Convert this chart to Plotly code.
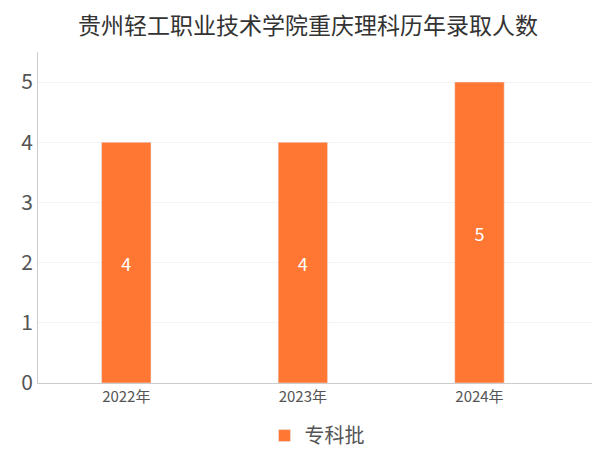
import plotly.graph_objects as go

years = ["2022年", "2023年", "2024年"]
values = [4, 4, 5]
series_name = "专科批"

fig = go.Figure()
fig.add_trace(go.Bar(
    x=[0, 1, 2], y=values, name=series_name, width=0.28,
    marker=dict(color="#FF7733"),
    text=[str(v) for v in values], textposition="inside", insidetextanchor="middle",
    textfont=dict(color="white", size=18),
))
fig.update_layout(
    width=600, height=450,
    title=dict(text="贵州轻工职业技术学院重庆理科历年录取人数", x=0.5, xanchor="center", y=0.96, yanchor="middle",
               font=dict(size=23, color="#333", family="Noto Sans CJK SC")),
    font=dict(family="Noto Sans CJK SC"),
    plot_bgcolor="white", paper_bgcolor="white",
    margin=dict(l=30, r=12, t=44, b=75, autoexpand=False),
    showlegend=True,
    legend=dict(orientation="h", x=0.5, xanchor="center", y=-0.1, yanchor="top",
                font=dict(size=20, color="#555")),
)
fig.update_xaxes(range=[-0.5, 2.66], tickvals=[0, 1, 2], ticktext=years, showline=True,
                 linecolor="#ccc", tickfont=dict(size=15, color="#555"), ticks="")
fig.update_yaxes(range=[0, 5.5], dtick=1, showgrid=True, gridcolor="#f3f3f3", showline=True,
                 linecolor="#ccc", tickfont=dict(size=21, color="#555"), zeroline=False)
fig.write_html("out.html")
